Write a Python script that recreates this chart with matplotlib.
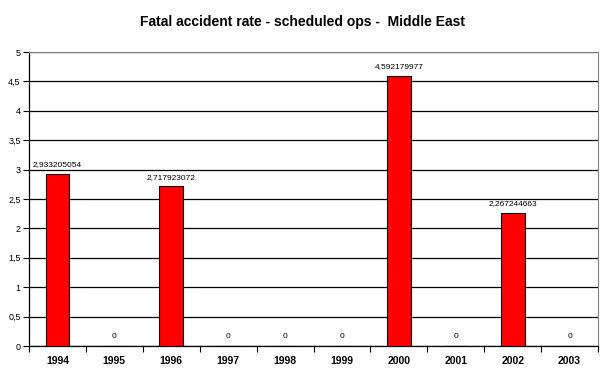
import numpy as np
import matplotlib
matplotlib.use("Agg")
from matplotlib import pyplot as plt

years = ["1994", "1995", "1996", "1997", "1998", "1999", "2000", "2001", "2002", "2003"]
rates = [2.933205054, 0, 2.717923072, 0, 0, 0, 4.592179977, 0, 2.267244663, 0]
rate_labels = ["2,933205054", "0", "2,717923072", "0", "0", "0",
               "4,592179977", "0", "2,267244663", "0"]
yticks = [0, 0.5, 1, 1.5, 2, 2.5, 3, 3.5, 4, 4.5, 5]
ytick_labels = ["0", "0,5", "1", "1,5", "2", "2,5", "3", "3,5", "4", "4,5", "5"]

plt.rcParams["font.family"] = ["Liberation Sans", "DejaVu Sans"]

fig = plt.figure(figsize=(6.06, 3.8), dpi=100)
ax = fig.add_axes([29 / 606, 1 - 346 / 380, (598 - 29) / 606, (346 - 52) / 380])

x = np.arange(len(years))
ax.bar(x, rates, width=0.42, color="#ff0000", edgecolor="black", linewidth=0.8, zorder=3)

for xi, v, lab in zip(x, rates, rate_labels):
    ax.annotate(lab, (xi, v), xytext=(0, 4), textcoords="offset points",
                ha="center", va="bottom", fontsize=6)

ax.set_xlim(-0.5, len(years) - 0.5)
ax.set_ylim(0, 5)
ax.set_yticks(yticks)
ax.set_yticklabels(ytick_labels, fontsize=6.5)
ax.yaxis.grid(True, color="black", linewidth=0.9, zorder=0)

ax.set_xticks(x)
ax.set_xticklabels(years, fontsize=7.5, fontweight="bold")
ax.set_xticks(np.arange(-0.5, len(years)), minor=True)
ax.tick_params(axis="x", which="major", length=0, pad=7)
ax.tick_params(axis="x", which="minor", length=4, width=0.8, direction="out")
ax.tick_params(axis="y", length=4, width=0.8, direction="out", pad=2)

ax.spines["top"].set_color("#808080")
ax.spines["right"].set_color("#808080")
for s in ["left", "bottom"]:
    ax.spines[s].set_color("black")
    ax.spines[s].set_linewidth(0.9)

fig.text(0.5, 1 - 22 / 380, "Fatal accident rate - scheduled ops -  Middle East",
         ha="center", va="center", fontsize=10, fontweight="bold")

fig.savefig("out.png", dpi=100, facecolor="white")
